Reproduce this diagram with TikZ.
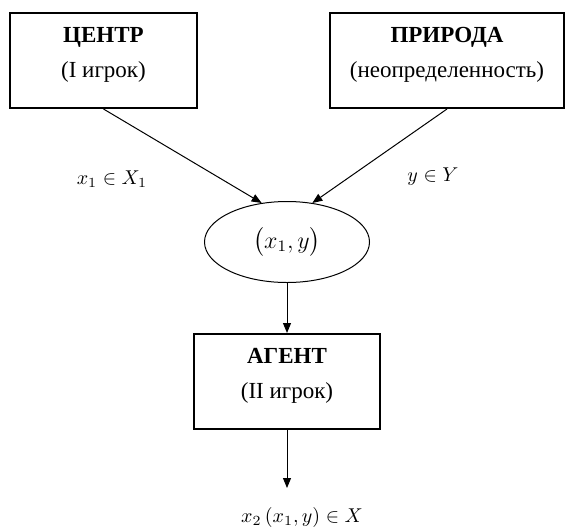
\documentclass[tikz,border=0pt]{standalone}
\usepackage{amsmath,amssymb}
\usepackage{fontspec}
\setmainfont{Liberation Serif}
\usetikzlibrary{positioning,arrows.meta,shapes.geometric}
\tikzset{
    player/.style={draw,line width=1pt,minimum width=#1,minimum height=47.5pt,inner sep=0pt},
    player/.default=93.5pt,
    ptext/.style={align=center,font=\fontsize{11.5}{13.5}\selectfont,inner sep=0pt},
    pair/.style={ellipse,draw,line width=0.5pt,minimum width=82.5pt,minimum height=40.5pt,inner sep=0pt,font=\fontsize{12}{14}\selectfont},
    flow/.style={-{Triangle[length=5pt,width=4pt]},line width=0.5pt},
    choice/.style={font=\fontsize{10}{12}\selectfont,inner sep=0pt},
}

\begin{document}
\begin{tikzpicture}[x=0.5pt,y=0.5pt]
    \useasboundingbox (0,0) rectangle (566,527);
    \node[player] (centr) at (103.5,466.5) {};
    \node[ptext] (centrtxt) at ([yshift=3pt]centr.center) {\textbf{ЦЕНТР}\\[4pt](I игрок)};
    \node[player=117pt] (prir) at (447,466.5) {};
    \node[ptext] (prirtxt) at ([yshift=3pt]prir.center) {\textbf{ПРИРОДА}\\[4pt](неопределенность)};
    \node[pair] (ell) at (287,285) {$\bigl(x_1,y\bigr)$};
    \node[player=93pt,below=25pt of ell] (agent) {};
    \node[ptext] (agenttxt) at ([yshift=3pt]agent.center) {\textbf{АГЕНТ}\\[4pt](II игрок)};
    \coordinate (out) at (287,39);
    \draw[flow] (centr.south) -- (ell.123);
    \draw[flow] (prir.south) -- (ell.57);
    \draw[flow] (ell.south) -- (agent.north);
    \draw[flow] (agent.south) -- (out);
    \node[choice] (xlab) at (112,348) {$x_1\in X_1$};
    \node[choice] (ylab) at (433,350) {$y\in Y$};
    \node[choice] (outlab) at (302,10) {$x_2\left(x_1,y\right)\in X$};
\end{tikzpicture}
\end{document}
